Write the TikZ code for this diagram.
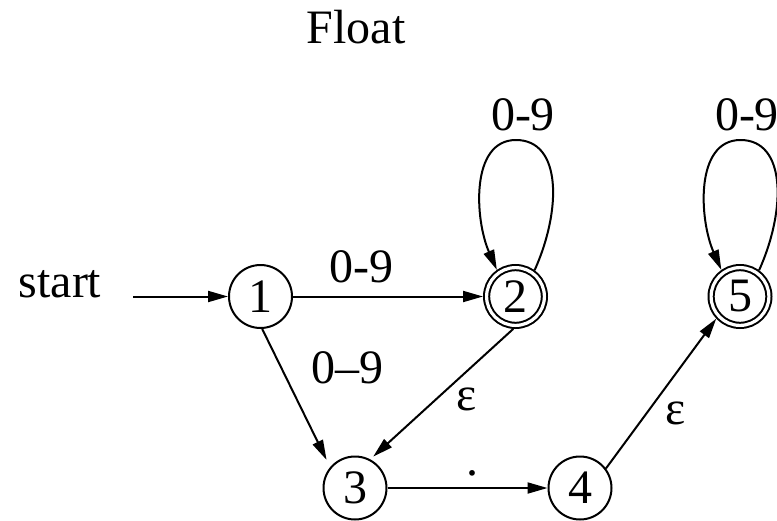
\documentclass[tikz,border=0pt]{standalone}
\usepackage{fontspec}
\setmainfont{Liberation Serif}
\usetikzlibrary{arrows.meta}
\begin{document}
\begin{tikzpicture}[x=0.5pt,y=-0.5pt,
  every node/.style={font=\fontsize{24}{28}\selectfont},
  state/.style={circle,draw,line width=1pt,minimum size=31.5pt,inner sep=0pt,outer sep=0.5pt},
  accept/.style={state,double,double distance=1.6pt,minimum size=28.9pt,outer sep=1.8pt},
  arr/.style={-{Triangle[length=10pt,width=5.5pt]},line width=1pt},
  lbl/.style={anchor=base,inner sep=0pt}]
\useasboundingbox (0,0) rectangle (777,520);
% title and start
\node[lbl] (title) at (356,43) {Float};
\node[lbl] (start) at (60,297) {start};
\coordinate (s0) at (133,296.5);
% states
\node[state]  (n1) at (260.5,296.5) {1};
\node[accept] (n2) at (515.5,296.5) {2};
\node[state]  (n3) at (355,488) {3};
\node[state]  (n4) at (580,488) {4};
\node[accept] (n5) at (740,296.5) {5};
% loop tops
\coordinate (t2) at (516,140);
\coordinate (t5) at (740.5,140);
% edges
\draw[arr] (s0) -- (n1);
\draw[arr] (n1) -- (n2);
\draw[arr,shorten >=4pt] (n1.-87) -- (n3.140);
\draw[arr,shorten >=2pt] (n2.-94) -- (n3.62);
\draw[arr] (n3) -- (n4);
\draw[arr] (n4.37) -- (n5.223);
\draw[arr] (n2.54) .. controls +(27,-60) and +(46,0) .. (t2)
                   .. controls +(-46,0) and +(-22,-50) .. (n2.125);
\draw[arr] (n5.54) .. controls +(27,-60) and +(46,0) .. (t5)
                   .. controls +(-46,0) and +(-22,-50) .. (n5.125);
% labels
\node[lbl] (l12) at (361.5,282) {0-9};
\node[lbl] (l22) at (523,130) {0-9};
\node[lbl] (l55) at (747,130) {0-9};
\node[lbl] (l13) at (347,383) {0\textendash 9};
\node[lbl] (l23) at (467,410) {ε};
\node[lbl] (l45) at (676,424) {ε};
\node[lbl] (l34) at (472,475) {.};
\end{tikzpicture}
\end{document}
